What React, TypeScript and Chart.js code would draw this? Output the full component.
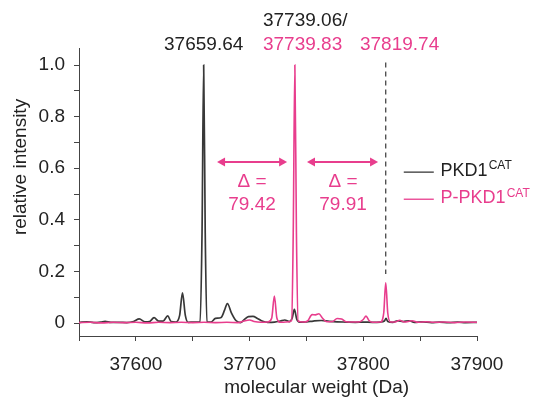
import React, { useEffect, useRef } from 'react';
import { Chart, registerables } from 'chart.js';

Chart.register(...registerables);

// ---- data ----
const blackMass = [
  37550, 37557, 37563, 37569, 37573, 37578, 37585, 37592, 37598, 37603,
  37608, 37612, 37616, 37620, 37624, 37628, 37631, 37635, 37638.5, 37641,
  37643.5, 37646, 37651, 37656.5, 37658.2, 37659.64, 37661.0, 37662.5, 37666, 37670,
  37675, 37678, 37680.5, 37684, 37688, 37692, 37695, 37699, 37703, 37707,
  37711, 37716, 37722, 37727, 37731, 37735, 37737.5, 37739.4, 37741.5, 37744,
  37750, 37756, 37763, 37770, 37777, 37785, 37793, 37800, 37808, 37815,
  37818.5, 37820, 37821.5, 37826, 37830, 37835, 37840, 37845, 37852, 37860,
  37867, 37875, 37883, 37890, 37900,
];
const blackIntensity = [
  0.003, 0.005, 0.002, 0.004, 0.007, 0.003, 0.003, 0.002, 0.006, 0.016,
  0.005, 0.006, 0.021, 0.008, 0.008, 0.028, 0.006, 0.004, 0.03, 0.117,
  0.03, 0.003, 0.004, 0.005, 0.35, 1.0, 0.35, 0.005, 0.004, 0.018,
  0.022, 0.05, 0.076, 0.04, 0.01, 0.002, 0.012, 0.025, 0.026, 0.018,
  0.008, 0.003, 0.004, 0.008, 0.012, 0.006, 0.02, 0.053, 0.015, 0.004,
  0.005, 0.008, 0.01, 0.007, 0.005, 0.004, 0.003, 0.004, 0.003, 0.004,
  0.008, 0.018, 0.006, 0.003, 0.009, 0.006, 0.009, 0.003, 0.005, 0.002,
  0.004, 0.002, 0.004, 0.002, 0.003,
];
const pinkMass = [
  37550, 37560, 37570, 37580, 37590, 37600, 37610, 37620, 37630, 37640,
  37650, 37660, 37670, 37680, 37690, 37695, 37700, 37704, 37710, 37716,
  37719.5, 37721.8, 37724, 37727, 37732, 37737, 37738.4, 37739.83, 37741.2, 37742.7,
  37747, 37751, 37755, 37758, 37761, 37764, 37768, 37773, 37777, 37781,
  37785, 37790, 37796, 37800, 37802.4, 37805, 37808, 37815, 37818, 37819.74,
  37821.5, 37824, 37828, 37832, 37836, 37843, 37848, 37855, 37862, 37870,
  37880, 37890, 37900,
];
const pinkIntensity = [
  0.002, 0.003, 0.001, 0.003, 0.002, 0.003, 0.001, 0.003, 0.002, 0.003,
  0.002, 0.003, 0.002, 0.003, 0.002, 0.008, 0.012, 0.006, 0.003, 0.004,
  0.02, 0.105, 0.02, 0.003, 0.004, 0.01, 0.35, 1.0, 0.35, 0.008,
  0.004, 0.008, 0.033, 0.032, 0.036, 0.02, 0.005, 0.006, 0.018, 0.016,
  0.005, 0.004, 0.004, 0.014, 0.027, 0.01, 0.003, 0.004, 0.04, 0.156,
  0.04, 0.004, 0.004, 0.011, 0.004, 0.009, 0.003, 0.005, 0.003, 0.004,
  0.002, 0.004, 0.003,
];

const xTickValues = [37550, 37600, 37650, 37700, 37750, 37800, 37850, 37900];
const yTickValues = [0, 0.1, 0.2, 0.3, 0.4, 0.5, 0.6, 0.7, 0.8, 0.9, 1.0];
const seriesNames = ['PKD1', 'P-PKD1'];
const seriesSup = 'CAT';
const peakMasses = [37659.64, 37739.83, 37819.74];
const deltaLabels = ['79.42', '79.91'];
const xTitle = 'molecular weight (Da)';
const yTitle = 'relative intensity';

// ---- styles ----
const BLACK = '#383838';
const PINK = '#e83d8d';
const TEXT = '#222222';
const FONT = 'Arial, "Liberation Sans", sans-serif';

function arrow(ctx: CanvasRenderingContext2D, x1: number, x2: number, yy: number) {
  const head = 8;
  const half = 4.5;
  ctx.save();
  ctx.strokeStyle = PINK;
  ctx.fillStyle = PINK;
  ctx.lineWidth = 2;
  ctx.beginPath();
  ctx.moveTo(x1 + head - 1, yy);
  ctx.lineTo(x2 - head + 1, yy);
  ctx.stroke();
  ctx.beginPath();
  ctx.moveTo(x1, yy);
  ctx.lineTo(x1 + head, yy - half);
  ctx.lineTo(x1 + head, yy + half);
  ctx.closePath();
  ctx.fill();
  ctx.beginPath();
  ctx.moveTo(x2, yy);
  ctx.lineTo(x2 - head, yy - half);
  ctx.lineTo(x2 - head, yy + half);
  ctx.closePath();
  ctx.fill();
  ctx.restore();
}

const overlayPlugin = {
  id: 'overlay',
  afterDraw(chart: any) {
    const ctx: CanvasRenderingContext2D = chart.ctx;
    const xs = chart.scales.x;
    const ys = chart.scales.y;
    const px = (v: number) => xs.getPixelForValue(v);
    const py = (v: number) => ys.getPixelForValue(v);
    ctx.save();
    ctx.textBaseline = 'middle';
    ctx.font = `19px ${FONT}`;

    // peak labels
    ctx.fillStyle = TEXT;
    ctx.textAlign = 'center';
    ctx.fillText(peakMasses[0].toFixed(2), px(peakMasses[0]), py(1.078));
    ctx.textAlign = 'left';
    ctx.fillText('37739.06/', px(37711.8), py(1.171));
    ctx.fillStyle = PINK;
    ctx.fillText(peakMasses[1].toFixed(2), px(37711.8), py(1.078));
    ctx.fillText(peakMasses[2].toFixed(2), px(37797.1), py(1.078));

    // dashed marker
    ctx.strokeStyle = BLACK;
    ctx.lineWidth = 1.2;
    ctx.setLineDash([5, 4]);
    ctx.beginPath();
    ctx.moveTo(px(peakMasses[2]), py(1.01));
    ctx.lineTo(px(peakMasses[2]), py(0.19));
    ctx.stroke();
    ctx.setLineDash([]);

    // delta arrows
    arrow(ctx, px(37671.4), px(37733), py(0.624));
    arrow(ctx, px(37750.5), px(37813), py(0.624));
    ctx.fillStyle = PINK;
    ctx.textAlign = 'center';
    ctx.fillText('\u0394 =', px(37702.2), py(0.547));
    ctx.fillText(deltaLabels[0], px(37702.2), py(0.457));
    ctx.fillText('\u0394 =', px(37782.2), py(0.547));
    ctx.fillText(deltaLabels[1], px(37782.2), py(0.457));

    // legend
    const colors = [BLACK, PINK];
    const textColors = [TEXT, PINK];
    const rows = [0.585, 0.48];
    rows.forEach((rv, i) => {
      const yy = py(rv);
      ctx.strokeStyle = colors[i];
      ctx.lineWidth = 1.3;
      ctx.beginPath();
      ctx.moveTo(px(37835.6), yy);
      ctx.lineTo(px(37862), yy);
      ctx.stroke();
      ctx.fillStyle = textColors[i];
      ctx.textAlign = 'left';
      ctx.font = `18px ${FONT}`;
      const tx = px(37868);
      ctx.fillText(seriesNames[i], tx, yy - 1);
      const w = ctx.measureText(seriesNames[i]).width;
      ctx.font = `12px ${FONT}`;
      ctx.fillText(seriesSup, tx + w + 1, yy - 6);
    });

    // axis titles
    ctx.font = `19px ${FONT}`;
    ctx.fillStyle = TEXT;
    ctx.textAlign = 'center';
    ctx.fillText(xTitle, px(37759), 388);
    ctx.save();
    ctx.translate(21, py(0.605));
    ctx.rotate(-Math.PI / 2);
    ctx.fillText(yTitle, 0, 0);
    ctx.restore();

    ctx.restore();
  },
};

export default function App() {
  const ref = useRef<HTMLCanvasElement | null>(null);
  useEffect(() => {
    if (!ref.current) return;
    const chart = new Chart(ref.current, {
      type: 'line',
      data: {
        datasets: [
          {
            label: seriesNames[0],
            data: blackMass.map((m, i) => ({ x: m, y: blackIntensity[i] })),
            borderColor: BLACK,
            borderWidth: 1.7,
            pointRadius: 0,
            cubicInterpolationMode: 'monotone',
            order: 2,
          },
          {
            label: seriesNames[1],
            data: pinkMass.map((m, i) => ({ x: m, y: pinkIntensity[i] })),
            borderColor: PINK,
            borderWidth: 1.6,
            pointRadius: 0,
            cubicInterpolationMode: 'monotone',
            order: 1,
          },
        ],
      },
      options: {
        responsive: false,
        animation: false,
        events: [],
        layout: { padding: { top: 48, right: 58, left: 0, bottom: 0 } },
        plugins: { legend: { display: false }, tooltip: { enabled: false } },
        scales: {
          x: {
            type: 'linear',
            min: 37550,
            max: 37900,
            afterBuildTicks: (s: any) => {
              s.ticks = xTickValues.map((v) => ({ value: v }));
            },
            afterFit: (s: any) => {
              s.height = 63;
            },
            ticks: {
              callback: (v: any) => (Number(v) % 100 === 0 ? String(v) : ''),
              autoSkip: false,
              maxRotation: 0,
              padding: 12,
              color: TEXT,
              font: { family: FONT, size: 19 },
            },
            grid: { drawOnChartArea: false, tickLength: 5, color: '#444' },
            border: { color: '#444', width: 1 },
          },
          y: {
            type: 'linear',
            min: -0.05,
            max: 1.066,
            afterBuildTicks: (s: any) => {
              s.ticks = yTickValues.map((v) => ({ value: v }));
            },
            afterFit: (s: any) => {
              s.width = 79;
            },
            ticks: {
              callback: (v: any) => {
                const n = Math.round(Number(v) * 10);
                if (n % 2 !== 0) return '';
                return n === 0 ? '0' : (n / 10).toFixed(1);
              },
              autoSkip: false,
              padding: 9,
              color: TEXT,
              font: { family: FONT, size: 19 },
            },
            grid: { drawOnChartArea: false, tickLength: 5, color: '#444' },
            border: { color: '#444', width: 1 },
          },
        },
      },
      plugins: [overlayPlugin],
    } as any);
    return () => chart.destroy();
  }, []);
  return (
    <div style={{ position: 'fixed', left: 0, top: 0, width: 535, height: 399, background: '#fff' }}>
      <canvas ref={ref} width={535} height={399} style={{ width: 535, height: 399 }} />
    </div>
  );
}
